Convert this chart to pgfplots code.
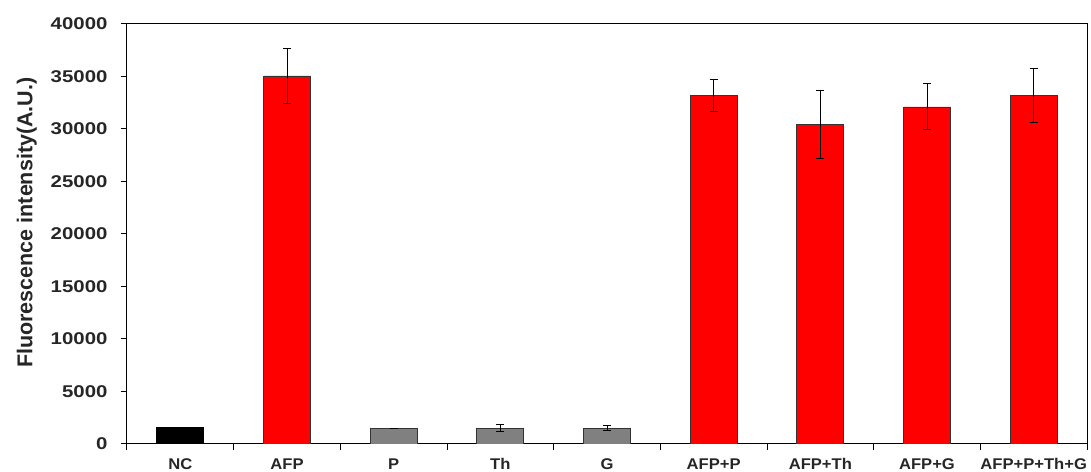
\documentclass[border=0pt]{standalone}
\usepackage{fontspec}
\setmainfont{Liberation Sans}
\newfontfamily\ytickfont[FakeStretch=1.2]{Liberation Sans}
\newfontfamily\xtickfont[FakeStretch=1.07]{Liberation Sans}
\usepackage{pgfplots}
\pgfplotsset{compat=1.18}
\definecolor{barred}{RGB}{255,0,0}
\definecolor{bargray}{RGB}{128,128,128}
\begin{document}
\begin{tikzpicture}
\begin{axis}[
  name=ax,
  scale only axis,
  width=960pt, height=420pt,
  xmin=-0.5, xmax=8.5,
  ymin=0, ymax=40000,
  ytick={0,5000,...,40000},
  xtick={0,...,8},
  xticklabels={NC,AFP,P,Th,G,AFP+P,AFP+Th,AFP+G,AFP+P+Th+G},
  minor xtick={-0.5,0.5,...,8.5},
  major x tick style={draw=none},
  xtick pos=bottom, ytick pos=left,
  tick align=outside,
  major tick length=6pt, minor tick length=6pt,
  scaled y ticks=false,
  /pgf/number format/assume math mode=true,
  yticklabel={\pgfmathprintnumber[1000 sep={}]{\tick}},
  yticklabel style={font=\fontsize{17}{20}\selectfont\ytickfont\bfseries, xshift=-10pt, text=black!85},
  xticklabel style={font=\fontsize{15.5}{18}\selectfont\xtickfont\bfseries, yshift=-5pt, text=black!85},
  ylabel={Fluorescence intensity(A.U.)},
  ylabel style={font=\fontsize{21.5}{24}\selectfont\bfseries, at={(axis description cs:-0.09375,0.527)}, anchor=south, inner sep=0pt, text=black!85},
  axis line style={line width=1pt},
  every tick/.style={line width=1pt, black},
  ybar, bar width=47pt, bar shift=0pt,
  error bars/y dir=both, error bars/y explicit,
  error bars/error bar style={line width=1pt, black},
  error bars/error mark options={rotate=90, mark size=4pt, line width=1pt, black},
]
\addplot[fill=black, draw=black, line width=0.8pt] coordinates {(0,1580) +- (0,0)};
\addplot[fill=bargray, draw=black!80, line width=0.8pt] coordinates {
  (2,1520) +- (0,0)
  (3,1520) +- (0,330)
  (4,1510) +- (0,220)
};
\addplot[fill=barred, draw=black!80, line width=0.8pt] coordinates {
  (1,35050) +- (0,2640)
  (5,33180) +- (0,1550)
  (6,30390) +- (0,3240)
  (7,32100) +- (0,2190)
  (8,33180) +- (0,2555)
};
\end{axis}
\pgfresetboundingbox
\path ([shift={(-127pt,-28pt)}]ax.south west) rectangle ([shift={(4pt,24pt)}]ax.north east);
\end{tikzpicture}
\end{document}
